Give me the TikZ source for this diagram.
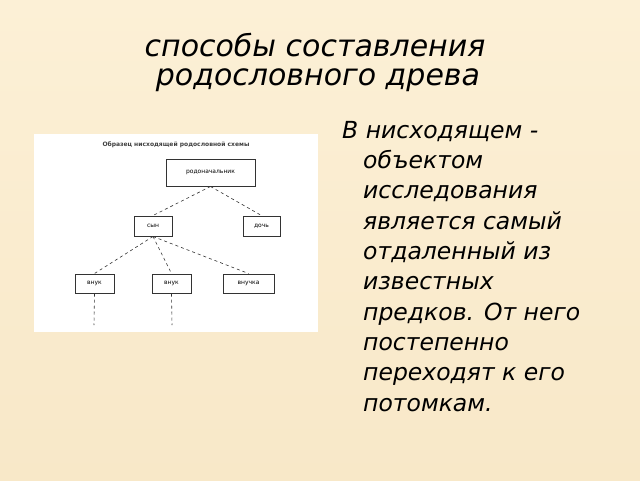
\documentclass[tikz,border=0pt]{standalone}
\usepackage{fontspec}
\setmainfont{DejaVu Sans}
\begin{document}
\begin{tikzpicture}[x=1pt,y=-1pt,
  bx/.style={draw=black!80,line width=1pt,fill=white,inner sep=0pt,font=\fontsize{6}{7}\selectfont},
  dl/.style={dashed,line width=0.6pt,black!80}]
\useasboundingbox (0,0) rectangle (640,480);
\shade[top color={rgb,255:red,252;green,240;blue,214}, bottom color={rgb,255:red,248;green,232;blue,200}] (0,0) rectangle (640,480);
\node[font=\fontsize{30}{32}\selectfont\itshape] (t1) at (315,45) {способы составления};
\node[font=\fontsize{30}{32}\selectfont\itshape] (t2) at (318,80) {родословного древа};
\node[anchor=north west,align=left,inner sep=0pt,font=\fontsize{23.5}{30.3}\selectfont\itshape] (body) at (342,121)
 {В нисходящем -\\
 \hspace*{21pt}объектом\\ \hspace*{21pt}исследования\\ \hspace*{21pt}является самый\\
 \hspace*{21pt}отдаленный из\\ \hspace*{21pt}известных\\ \hspace*{21pt}предков. От него\\
 \hspace*{21pt}постепенно\\ \hspace*{21pt}переходят к его\\ \hspace*{21pt}потомкам.};
\fill[white] (34,134) rectangle (318,332);
\node[font=\bfseries\fontsize{6}{7}\selectfont,text=black!75] (cap) at (176,145) {Образец нисходящей родословной схемы};
\node[bx,minimum width=89pt,minimum height=27pt] (r) at (210.5,172.5) {родоначальник};
\node[bx,minimum width=38pt,minimum height=20pt] (s) at (153,226) {сын};
\node[bx,minimum width=37pt,minimum height=20pt] (d) at (261.5,226) {дочь};
\node[bx,minimum width=39pt,minimum height=19pt] (v1) at (94.5,283.5) {внук};
\node[bx,minimum width=39pt,minimum height=19pt] (v2) at (171.5,283.5) {внук};
\node[bx,minimum width=51pt,minimum height=19pt] (v3) at (248.5,283.5) {внучка};
\coordinate (e1) at (94,325); \coordinate (e2) at (172,325);
\draw[dl] (r.south) -- (s.north);
\draw[dl] (r.south) -- (d.north);
\draw[dl] (s.south) -- (v1.north);
\draw[dl] (s.south) -- (v2.north);
\draw[dl] (s.south) -- (v3.north);
\draw[dl] (v1.south) -- (e1);
\draw[dl] (v2.south) -- (e2);
\end{tikzpicture}
\end{document}
